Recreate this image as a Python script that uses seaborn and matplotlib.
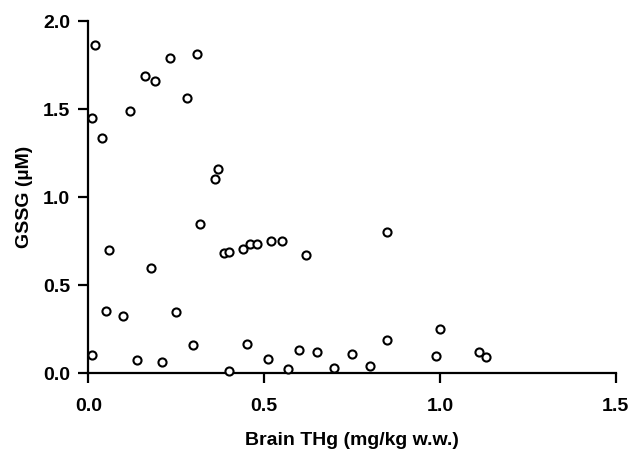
import pandas as pd
import matplotlib
matplotlib.use("Agg")
import matplotlib.pyplot as plt
import seaborn as sns

# Brain THg (mg/kg w.w.) vs GSSG (uM)
thg = [0.019, 0.010, 0.040, 0.119, 0.160, 0.190, 0.231, 0.280, 0.310, 0.360, 0.370,
       0.319, 0.059, 0.178, 0.049, 0.100, 0.250, 0.010, 0.139, 0.209, 0.298, 0.400,
       0.387, 0.400, 0.439, 0.459, 0.479, 0.520, 0.550, 0.620, 0.451, 0.510, 0.569,
       0.600, 0.650, 0.849, 0.699, 0.750, 0.800, 0.849, 1.000, 0.990, 1.111, 1.130]
gssg = [1.864, 1.447, 1.333, 1.489, 1.688, 1.661, 1.792, 1.563, 1.813, 1.104, 1.157,
        0.847, 0.699, 0.598, 0.354, 0.324, 0.345, 0.104, 0.076, 0.064, 0.159, 0.009,
        0.682, 0.688, 0.703, 0.733, 0.731, 0.750, 0.752, 0.669, 0.167, 0.078, 0.025,
        0.131, 0.121, 0.801, 0.030, 0.110, 0.042, 0.189, 0.248, 0.098, 0.118, 0.093]

df = pd.DataFrame({"THg": thg, "GSSG": gssg})

sns.set_style("ticks", {"axes.edgecolor": "black", "text.color": "black",
                        "xtick.color": "black", "ytick.color": "black",
                        "axes.labelcolor": "black"})
plt.rcParams["font.family"] = ["Liberation Sans", "DejaVu Sans"]
plt.rcParams["font.weight"] = "bold"

fig = plt.figure(figsize=(6.29, 4.53), dpi=100)
ax = fig.add_axes([0.1404, 0.1766, 0.979 - 0.1404, 0.9536 - 0.1766])

sns.scatterplot(data=df, x="THg", y="GSSG", ax=ax, s=34, marker="o",
                facecolor="white", edgecolor="black", linewidth=1.5,
                clip_on=False, zorder=3)

ax.set_xlim(0, 1.5)
ax.set_ylim(0, 2.0)
ax.set_xticks([0, 0.5, 1.0, 1.5])
ax.set_yticks([0, 0.5, 1.0, 1.5, 2.0])
ax.set_xticklabels(["0.0", "0.5", "1.0", "1.5"])
ax.set_yticklabels(["0.0", "0.5", "1.0", "1.5", "2.0"])
sns.despine(ax=ax)
for sp in ["left", "bottom"]:
    ax.spines[sp].set_linewidth(1.6)
ax.tick_params(width=1.6, length=7, labelsize=14, direction="out", colors="black")
ax.tick_params(axis="x", pad=11)
ax.tick_params(axis="y", pad=6)
for lab in ax.get_xticklabels() + ax.get_yticklabels():
    lab.set_fontweight("bold")

ax.set_xlabel("Brain THg (mg/kg w.w.)", fontsize=14, fontweight="bold", labelpad=12,
              color="black")
ax.set_ylabel("GSSG (µM)", fontsize=14, fontweight="bold", labelpad=7, color="black")

fig.savefig("out.png", dpi=100)
